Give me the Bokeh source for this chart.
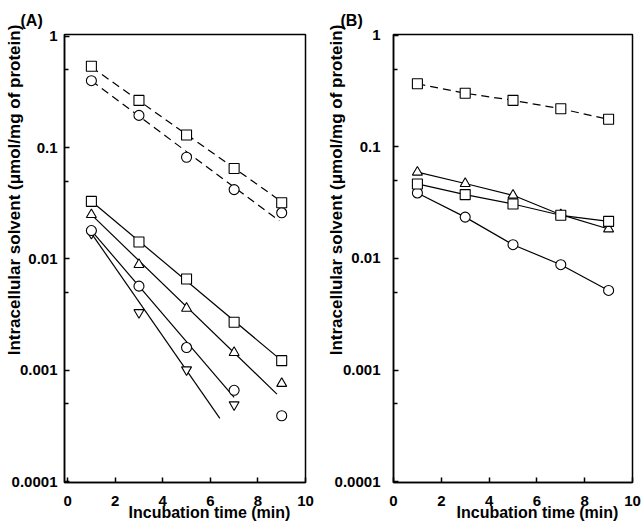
from bokeh.plotting import figure
from bokeh.models import Range1d, FixedTicker
from bokeh.layouts import row
from bokeh.embed import file_html
from bokeh.resources import INLINE

FONT = "Liberation Sans"

# ---------------- data ----------------
x_time = [1, 3, 5, 7, 9]
x_time_short = [1, 3, 5, 7]

# Panel A (points)
A_dash_square = [0.54, 0.266, 0.13, 0.065, 0.032]
A_dash_circle = [0.40, 0.195, 0.082, 0.042, 0.026]
A_square = [0.0329, 0.0142, 0.0066, 0.0027, 0.00122]
A_triangle = [0.025, 0.0089, 0.0036, 0.00144, 0.00076]
A_circle = [0.018, 0.0057, 0.0016, 0.00066, 0.00039]
A_inv_triangle = [0.017, 0.0033, 0.00101, 0.00049]

# Panel A (regression line end points)
A_fit_dash_square_x = [1, 8.8]
A_fit_dash_square_y = [0.53, 0.035]
A_fit_dash_circle_x = [1, 8.9]
A_fit_dash_circle_y = [0.40, 0.022]
A_fit_square_x = [1, 9]
A_fit_square_y = [0.033, 0.00122]
A_fit_triangle_x = [1, 8.8]
A_fit_triangle_y = [0.025, 0.00061]
A_fit_circle_x = [1, 7.0]
A_fit_circle_y = [0.018, 0.00057]
A_fit_inv_triangle_x = [1, 6.4]
A_fit_inv_triangle_y = [0.017, 0.00037]

# Panel B
B_dash_square = [0.369, 0.303, 0.262, 0.22, 0.177]
B_triangle = [0.0594, 0.047, 0.0369, 0.0247, 0.0184]
B_square = [0.0466, 0.0374, 0.0308, 0.0244, 0.0215]
B_circle = [0.0387, 0.0235, 0.0133, 0.0088, 0.00517]

x_ticks = [0, 2, 4, 6, 8, 10]
y_ticks = [0.0001, 0.001, 0.01, 0.1, 1]
y_tick_labels = ["0.0001", "0.001", "0.01", "0.1", "1"]
y_minor_ticks = [0.0005, 0.005, 0.05, 0.5]

NB = "\u00a0"
y_label_text = NB * 29 + "Intracellular solvent (\u03bcmol/mg of protein)"
x_label_text = NB * 11 + "Incubation time (min)"


def make_fig(width, border_left, border_right, x_start, y_end, standoff_y,
             ylab_standoff, panel, title_offset):
    p = figure(width=width, height=530, output_backend="svg", toolbar_location=None,
               y_axis_type="log",
               x_range=Range1d(x_start, 10), y_range=Range1d(9.8e-5, y_end),
               min_border_left=border_left, min_border_right=border_right,
               min_border_top=34, min_border_bottom=48)
    p.grid.visible = False
    p.background_fill_color = "white"
    p.border_fill_color = "white"
    p.outline_line_color = "black"
    p.outline_line_width = 1.5
    p.outline_line_alpha = 1

    p.title.text = panel
    p.title.align = "left"
    p.title.offset = title_offset
    p.title.standoff = 12
    p.title.text_font = FONT
    p.title.text_font_style = "bold"
    p.title.text_font_size = "16px"
    p.title.text_color = "black"

    xa = p.xaxis[0]
    xa.ticker = FixedTicker(ticks=x_ticks, minor_ticks=[])
    xa.major_tick_in = 5
    xa.major_tick_out = 0
    xa.minor_tick_in = 0
    xa.minor_tick_out = 0
    xa.axis_line_width = 1.5
    xa.major_tick_line_width = 1.5
    xa.major_label_standoff = 13
    xa.major_label_text_font = FONT
    xa.major_label_text_font_style = "bold"
    xa.major_label_text_font_size = "15px"
    xa.major_label_text_color = "black"
    xa.axis_label = x_label_text
    xa.axis_label_standoff = -5
    xa.axis_label_text_font = FONT
    xa.axis_label_text_font_style = "bold"
    xa.axis_label_text_font_size = "16px"
    xa.axis_label_text_color = "black"

    ya = p.yaxis[0]
    ya.ticker = FixedTicker(ticks=y_ticks, minor_ticks=y_minor_ticks)
    ya.major_label_overrides = {t: l for t, l in zip(y_ticks, y_tick_labels)}
    ya.major_tick_in = 5
    ya.major_tick_out = 0
    ya.minor_tick_in = 4
    ya.minor_tick_out = 0
    ya.axis_line_width = 1.5
    ya.major_tick_line_width = 1.5
    ya.minor_tick_line_width = 1.5
    ya.major_label_standoff = standoff_y
    ya.major_label_text_font = FONT
    ya.major_label_text_font_style = "bold"
    ya.major_label_text_font_size = "15px"
    ya.major_label_text_color = "black"
    ya.axis_label = y_label_text
    ya.axis_label_standoff = ylab_standoff
    ya.axis_label_text_font = FONT
    ya.axis_label_text_font_style = "bold"
    ya.axis_label_text_font_size = "17px"
    ya.axis_label_text_color = "black"
    return p


MS = 10
LW = 1.2
mk = dict(fill_color="white", line_color="black", line_width=1.1, size=MS)

# ---------------- panel A ----------------
pa = make_fig(322, 64, 17, -0.13, 1.04, 7, -15, "(A)", -44)
pa.line(A_fit_dash_square_x, A_fit_dash_square_y, line_color="black",
        line_width=LW, line_dash="8 5")
pa.line(A_fit_dash_circle_x, A_fit_dash_circle_y, line_color="black",
        line_width=LW, line_dash="8 5")
pa.line(A_fit_square_x, A_fit_square_y, line_color="black", line_width=LW)
pa.line(A_fit_triangle_x, A_fit_triangle_y, line_color="black", line_width=LW)
pa.line(A_fit_circle_x, A_fit_circle_y, line_color="black", line_width=LW)
pa.line(A_fit_inv_triangle_x, A_fit_inv_triangle_y, line_color="black", line_width=LW)

pa.scatter(x_time_short, A_inv_triangle, marker="inverted_triangle", **mk)
pa.scatter(x_time, A_circle, marker="circle", **mk)
pa.scatter(x_time, A_triangle, marker="triangle", **mk)
pa.scatter(x_time, A_square, marker="square", **mk)
pa.scatter(x_time, A_dash_circle, marker="circle", **mk)
pa.scatter(x_time, A_dash_square, marker="square", **mk)

# ---------------- panel B ----------------
pb = make_fig(321, 71, 11, 0, 1.02, 13, -14, "(B)", -53)
pb.line(x_time, B_dash_square, line_color="black", line_width=LW, line_dash="8 5")
pb.line(x_time, B_triangle, line_color="black", line_width=LW)
pb.line(x_time, B_square, line_color="black", line_width=LW)
pb.line(x_time, B_circle, line_color="black", line_width=LW)

pb.scatter(x_time, B_circle, marker="circle", **mk)
pb.scatter(x_time, B_triangle, marker="triangle", **mk)
pb.scatter(x_time, B_square, marker="square", **mk)
pb.scatter(x_time, B_dash_square, marker="square", **mk)

layout = row(pa, pb)
open("out.html", "w").write(file_html(layout, INLINE))
